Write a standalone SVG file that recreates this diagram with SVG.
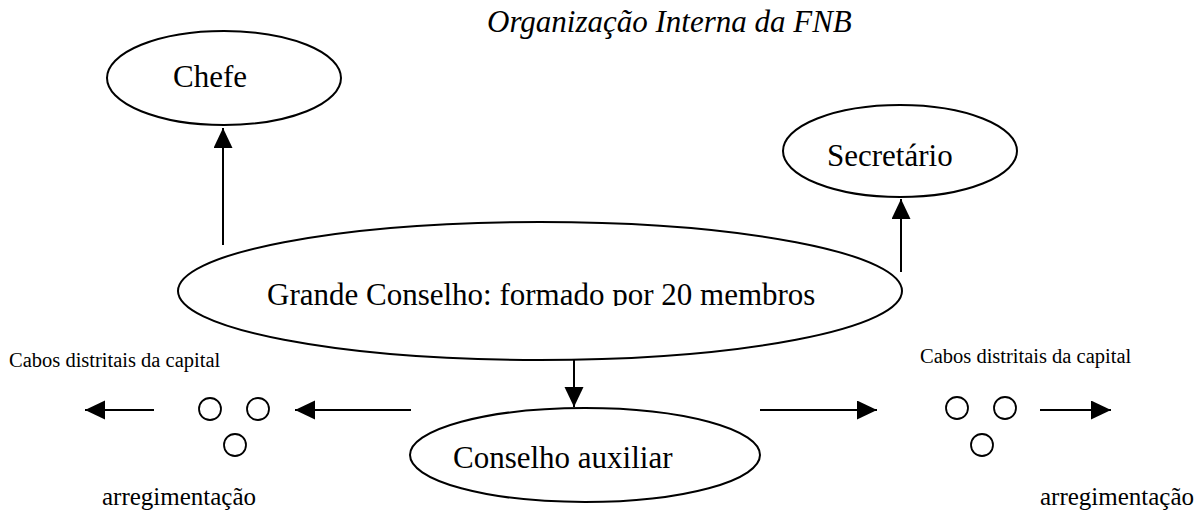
<svg xmlns="http://www.w3.org/2000/svg" width="1202" height="511" viewBox="0 0 1202 511">
<style>
.node{fill:#fff;stroke:#000;stroke-width:2}
.dot{fill:none;stroke:#000;stroke-width:1.8}
.lbl{font-family:"Liberation Serif","Times New Roman",serif;font-size:31px;fill:#000}
.title{font-family:"Liberation Serif","Times New Roman",serif;font-size:31px;font-style:italic;fill:#000}
.small{font-family:"Liberation Serif","Times New Roman",serif;font-size:20.5px;fill:#000}
.mid{font-family:"Liberation Serif","Times New Roman",serif;font-size:25px;fill:#000}
.edge{stroke:#000;stroke-width:2;fill:none;marker-end:url(#ah)}
</style>
<defs>
<marker id="ah" markerUnits="userSpaceOnUse" markerWidth="20" markerHeight="20" refX="20" refY="9.5" orient="auto">
<path d="M0,0 L20,9.5 L0,19 z" fill="#000"/>
</marker>
<clipPath id="clipGC"><rect x="0" y="0" width="1202" height="306"/></clipPath>
<clipPath id="clipCA"><rect x="0" y="0" width="1202" height="469"/></clipPath>
</defs>
<rect width="1202" height="511" fill="#fff"/>
<text class="title" x="487" y="32">Organização Interna da FNB</text>
<g id="connectors">
<line class="edge" x1="223" y1="245" x2="223" y2="128"/>
<line class="edge" x1="901" y1="272" x2="901" y2="199"/>
<line class="edge" x1="574" y1="360" x2="574" y2="407"/>
<line class="edge" x1="411" y1="410" x2="295" y2="410"/>
<line class="edge" x1="154" y1="410" x2="85" y2="410"/>
<line class="edge" x1="760" y1="410" x2="877" y2="410"/>
<line class="edge" x1="1040" y1="410" x2="1111" y2="410"/>
</g>
<g id="chefe">
<ellipse class="node" cx="224" cy="78" rx="117" ry="47"/>
<text class="lbl" x="173" y="87">Chefe</text>
</g>
<g id="secretario">
<ellipse class="node" cx="900" cy="151" rx="117" ry="46"/>
<text class="lbl" x="827" y="166">Secretário</text>
</g>
<g id="grande-conselho">
<ellipse class="node" cx="540" cy="291" rx="362" ry="69"/>
<text class="lbl" x="267" y="305" clip-path="url(#clipGC)">Grande Conselho: formado por 20 membros</text>
</g>
<g id="conselho-auxiliar">
<ellipse class="node" cx="585" cy="455" rx="175" ry="47"/>
<text class="lbl" x="453" y="468" clip-path="url(#clipCA)">Conselho auxiliar</text>
</g>
<g id="cabos-esquerda">
<text class="small" x="9" y="367">Cabos distritais da capital</text>
<circle class="dot" cx="210" cy="409" r="11"/>
<circle class="dot" cx="258" cy="409" r="11"/>
<circle class="dot" cx="235" cy="445" r="11"/>
<text class="mid" x="102" y="505">arregimentação</text>
</g>
<g id="cabos-direita">
<text class="small" x="920" y="363">Cabos distritais da capital</text>
<circle class="dot" cx="957" cy="408" r="11"/>
<circle class="dot" cx="1005" cy="408" r="11"/>
<circle class="dot" cx="982" cy="445" r="11"/>
<text class="mid" x="1040" y="505">arregimentação</text>
</g>
</svg>
